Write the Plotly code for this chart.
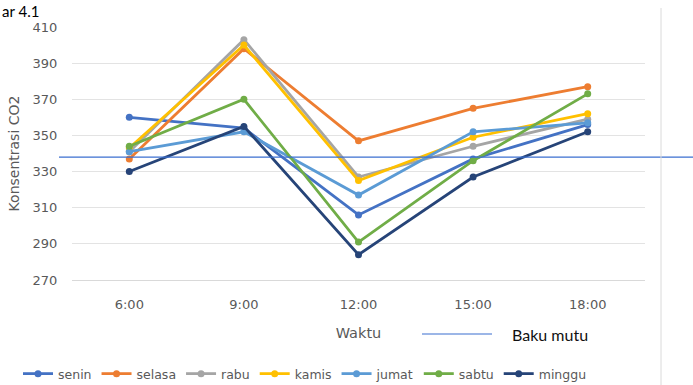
import plotly.graph_objects as go

# Sampling times and CO2 concentration per day of the week
waktu = ["6:00", "9:00", "12:00", "15:00", "18:00"]
senin = [360, 354, 306, 337, 356]
selasa = [337, 398, 347, 365, 377]
rabu = [341, 403, 327, 344, 359]
kamis = [343, 400, 325, 349, 362]
jumat = [341, 352, 317, 352, 357]
sabtu = [344, 370, 291, 336, 373]
minggu = [330, 355, 284, 327, 352]
baku_mutu = 338

series = [
    ("senin", senin, "#4472C4"),
    ("selasa", selasa, "#ED7D31"),
    ("rabu", rabu, "#A5A5A5"),
    ("kamis", kamis, "#FFC000"),
    ("jumat", jumat, "#5B9BD5"),
    ("sabtu", sabtu, "#70AD47"),
    ("minggu", minggu, "#264478"),
]

FONT = "DejaVu Sans, sans-serif"
FONT2 = "Lato, sans-serif"
GREY = "#595959"

fig = go.Figure()
for name, vals, color in series:
    fig.add_trace(go.Scatter(
        x=waktu, y=vals, name=name, mode="lines+markers",
        line=dict(color=color, width=2.8),
        marker=dict(color=color, size=7, symbol="circle"),
    ))

L, R, T, B = 72, 48, 27, 105
W, H = 693, 385
pw, ph = W - L - R, H - T - B

def px(x):
    return (x - L) / pw

def py(y):
    return (H - B - y) / ph

fig.update_layout(
    width=W, height=H,
    margin=dict(l=L, r=R, t=T, b=B, pad=0),
    paper_bgcolor="white", plot_bgcolor="white",
    font=dict(family=FONT, size=12, color=GREY),
    showlegend=True,
    legend=dict(
        orientation="h", xref="container", yref="container",
        x=18 / W, xanchor="left", y=1 - 374 / H, yanchor="middle",
        font=dict(family=FONT, size=12.5, color=GREY), itemwidth=30,
        tracegroupgap=0, bgcolor="rgba(0,0,0,0)",
    ),
    xaxis=dict(
        type="category", showgrid=False, showline=True, linecolor="#D9D9D9",
        ticks="outside", ticklen=12, tickcolor="rgba(0,0,0,0)",
        tickfont=dict(family=FONT, size=13, color=GREY),
        title=dict(text="Waktu", font=dict(family=FONT, size=14.5, color=GREY), standoff=17),
        range=[-0.5, 4.5],
    ),
    yaxis=dict(
        range=[270, 410], tick0=270, dtick=20, showgrid=True, gridcolor="#E3E3E3",
        zeroline=False, showline=False,
        ticks="outside", ticklen=11, tickcolor="rgba(0,0,0,0)",
        tickfont=dict(family=FONT, size=13, color=GREY),
        title=dict(text="Konsentrasi CO2", font=dict(family=FONT, size=14, color=GREY), standoff=9),
    ),
)

# Reference limit line across the figure
fig.add_shape(type="line", xref="paper", yref="y",
              x0=px(59), x1=px(693), y0=baku_mutu, y1=baku_mutu,
              line=dict(color="#3B6FD0", width=1.2))

# Legend key for the limit line
fig.add_shape(type="line", xref="paper", yref="paper",
              x0=px(422), x1=px(492), y0=py(334), y1=py(334),
              line=dict(color="#3B6FD0", width=1.2))
fig.add_annotation(text="Baku mutu", xref="paper", yref="paper",
                   x=px(510), y=py(334), xanchor="left", yanchor="middle",
                   showarrow=False, font=dict(family=FONT2, size=16, color="#111111"))

# Right-hand border of the chart area
fig.add_shape(type="line", xref="paper", yref="paper",
              x0=px(661), x1=px(661), y0=py(8), y1=py(386),
              line=dict(color="#DADADA", width=1))

# Figure caption at the top-left corner
fig.add_annotation(text="ar 4.1", xref="paper", yref="paper",
                   x=px(0), y=py(22), xanchor="left", yanchor="bottom",
                   showarrow=False, font=dict(family=FONT2, size=15, color="#000000"))

fig.write_html("out.html")
